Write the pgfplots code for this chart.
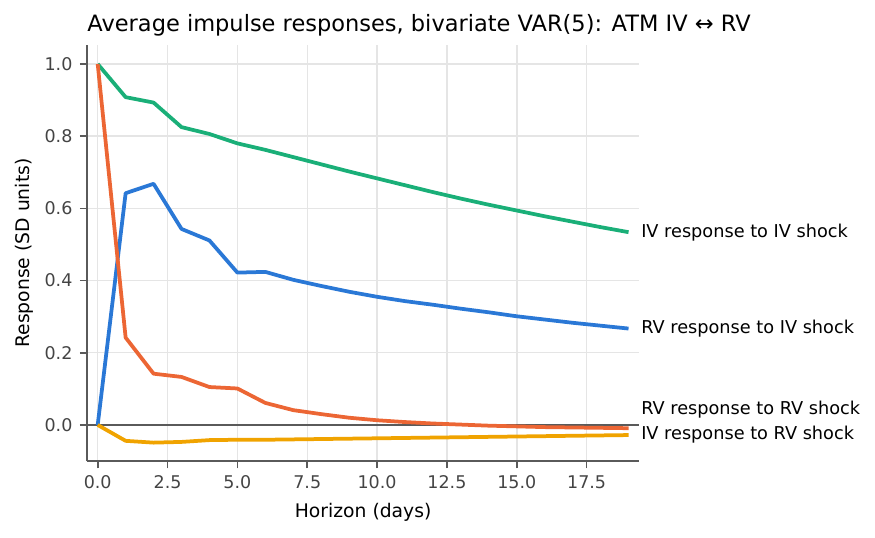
\documentclass[border=0pt]{standalone}
\usepackage{fontspec}
\setmainfont{DejaVu Sans}
\usepackage{pgfplots}
\pgfplotsset{compat=1.18}
\definecolor{cgreen}{RGB}{26,175,120}
\definecolor{cblue}{RGB}{42,120,214}
\definecolor{corange}{RGB}{236,102,52}
\definecolor{cyellow}{RGB}{240,163,0}
\definecolor{spine}{RGB}{90,90,90}
\definecolor{ticklab}{RGB}{68,68,68}
\definecolor{gridc}{RGB}{229,229,229}
\begin{document}
\begin{tikzpicture}
\useasboundingbox (-41.8pt,-36.5pt) rectangle (378.2pt,221.3pt);
\begin{axis}[
  at={(0,0)}, anchor=south west,
  scale only axis, width=265pt, height=199.7pt,
  xmin=-0.38, xmax=19.38, ymin=-0.1, ymax=1.0525,
  axis x line*=bottom, axis y line*=left,
  axis line style={spine, line width=0.8pt, -},
  xtick={0,2.5,5,7.5,10,12.5,15,17.5},
  ytick={0,0.2,0.4,0.6,0.8,1.0},
  xticklabel style={/pgf/number format/.cd, fixed, fixed zerofill, precision=1},
  yticklabel style={/pgf/number format/.cd, fixed, fixed zerofill, precision=1},
  /pgf/number format/assume math mode=true,
  tick label style={font=\fontsize{8.4}{10}\selectfont, text=ticklab},
  tick style={spine, line width=0.8pt},
  tick align=outside, major tick length=3.5pt,
  grid=major, major grid style={gridc, line width=0.7pt},
  xlabel={Horizon (days)}, ylabel={Response (SD units)},
  label style={font=\fontsize{9}{11}\selectfont},
  ylabel style={yshift=-1.5pt},
  title={Average impulse responses, bivariate VAR(5): ATM IV ↔ RV},
  every axis title/.style={at={(0,1)}, anchor=base west, inner sep=0pt, yshift=6.5pt, font=\fontsize{10.8}{13}\selectfont},
  clip=false,
  every axis plot/.append style={line width=1.8pt, line join=round},
]
\addplot[spine, line width=0.8pt] coordinates {(-0.38,0) (19.38,0)};
\addplot[cgreen] coordinates {
(0,1.0)(1,0.908)(2,0.893)(3,0.825)(4,0.806)(5,0.780)(6,0.762)(7,0.742)(8,0.722)(9,0.702)
(10,0.683)(11,0.664)(12,0.645)(13,0.627)(14,0.610)(15,0.594)(16,0.578)(17,0.563)(18,0.548)(19,0.534)};
\addplot[cblue] coordinates {
(0,0)(1,0.642)(2,0.668)(3,0.543)(4,0.511)(5,0.422)(6,0.424)(7,0.402)(8,0.385)(9,0.369)
(10,0.355)(11,0.343)(12,0.333)(13,0.322)(14,0.312)(15,0.301)(16,0.292)(17,0.283)(18,0.275)(19,0.267)};
\addplot[corange] coordinates {
(0,1.0)(1,0.242)(2,0.142)(3,0.133)(4,0.105)(5,0.101)(6,0.061)(7,0.041)(8,0.030)(9,0.020)
(10,0.013)(11,0.008)(12,0.004)(13,0.001)(14,-0.002)(15,-0.004)(16,-0.006)(17,-0.007)(18,-0.008)(19,-0.009)};
\addplot[cyellow] coordinates {
(0,0)(1,-0.044)(2,-0.049)(3,-0.047)(4,-0.042)(5,-0.041)(6,-0.041)(7,-0.040)(8,-0.039)(9,-0.038)
(10,-0.037)(11,-0.036)(12,-0.035)(13,-0.034)(14,-0.033)(15,-0.032)(16,-0.031)(17,-0.030)(18,-0.029)(19,-0.028)};
\node[anchor=west, inner sep=0pt, font=\fontsize{8.5}{10}\selectfont] at (axis cs:19.44,0.534) {IV response to IV shock};
\node[anchor=west, inner sep=0pt, font=\fontsize{8.5}{10}\selectfont] at (axis cs:19.44,0.267) {RV response to IV shock};
\node[anchor=west, inner sep=0pt, font=\fontsize{8.5}{10}\selectfont] at (axis cs:19.44,0.043) {RV response to RV shock};
\node[anchor=west, inner sep=0pt, font=\fontsize{8.5}{10}\selectfont] at (axis cs:19.44,-0.026) {IV response to RV shock};
\end{axis}
\end{tikzpicture}
\end{document}
